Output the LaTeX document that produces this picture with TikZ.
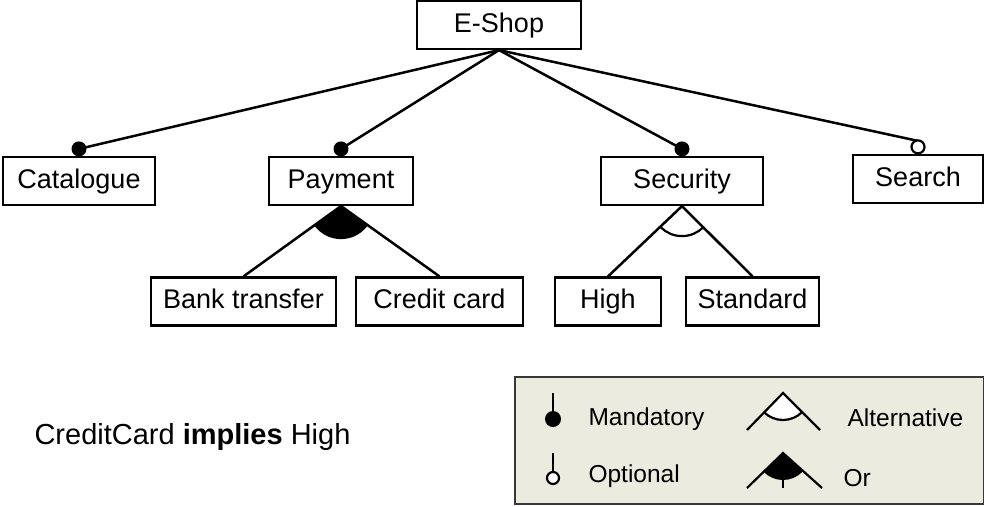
\documentclass[tikz,border=0pt]{standalone}
\usepackage{fontspec}
\setmainfont{Liberation Sans}
\usetikzlibrary{positioning,calc}
\definecolor{legendbg}{HTML}{EBEBDF}
\definecolor{legendline}{HTML}{383838}

\begin{document}
\begin{tikzpicture}[
    x=1pt, y=-1pt,
    feature/.style={rectangle, draw, line width=2.2pt, minimum height=48pt, inner sep=0pt, text height=19pt, text depth=5pt, font=\fontsize{27}{31}\selectfont},
    edge/.style={line width=2.5pt},
    legendtext/.style={anchor=west, font=\fontsize{24.5}{28}\selectfont}
]
\useasboundingbox (0,0) rectangle (984,506);

% Root feature
\node[feature, minimum width=164pt] (eshop) at (499,25) {E-Shop};

% First level
\node[feature, minimum width=152pt] (catalogue) at (79,181) {Catalogue};
\node[feature, minimum width=144pt] (payment) at (341,181) {Payment};
\node[feature, minimum width=162pt] (security) at (682,181) {Security};
\node[feature, minimum width=130pt] (search) at (918,179) {Search};

% Second level
\node[feature, minimum width=185pt] (bank) at (243.5,301.5) {Bank transfer};
\node[feature, minimum width=167pt] (credit) at (439.5,301.5) {Credit card};
\node[feature, minimum width=106pt] (high) at (608,301.5) {High};
\node[feature, minimum width=133pt] (standard) at (752.5,301.5) {Standard};

% Mandatory / optional edges
\draw[edge] (eshop.south) -- ([yshift=7pt]catalogue.north);
\draw[edge] (eshop.south) -- ([yshift=7pt]payment.north);
\draw[edge] (eshop.south) -- ([yshift=7pt]security.north);
\draw[edge] (eshop.south) -- ([yshift=13pt]search.north);
\fill ([yshift=7pt]catalogue.north) circle (7.5pt);
\fill ([yshift=7pt]payment.north) circle (7.5pt);
\fill ([yshift=7pt]security.north) circle (7.5pt);
\draw[line width=2.2pt, fill=white] ([yshift=7pt]search.north) circle (6.5pt);

% Or group
\begin{scope}
  \clip (payment.south) -- (bank.north) -- (credit.north) -- cycle;
  \fill (payment.south) circle (33pt);
\end{scope}
\draw[edge] (bank.north) -- (payment.south) -- (credit.north);

% Alternative group
\begin{scope}
  \clip (security.south) -- (high.north) -- (standard.north) -- cycle;
  \draw[line width=2.2pt] (security.south) circle (30pt);
\end{scope}
\draw[edge] (high.north) -- (security.south) -- (standard.north);

% Constraint
\node[anchor=west, font=\fontsize{29}{33}\selectfont] (constraint) at (31,437) {CreditCard \textbf{implies} High};

% Legend
\node[draw=legendline, fill=legendbg, line width=2pt, minimum width=469pt, minimum height=127pt, inner sep=0pt] (legend) at (749.5,440.5) {};
\draw[line width=2.2pt] (553,393) -- (553,418);
\fill (553,419) circle (8pt);
\draw[line width=2.2pt] (553,453) -- (553,472);
\draw[line width=2.2pt, fill=white] (553,478) circle (6pt);
\begin{scope}
  \clip (783,393) -- (747,430) -- (820,430) -- cycle;
  \draw[line width=2.2pt, fill=white] (783,393) circle (27pt);
\end{scope}
\draw[line width=2.2pt] (747,430) -- (783,393) -- (820,430);
\begin{scope}
  \clip (783,453) -- (747,488) -- (822,488) -- cycle;
  \fill (783,453) circle (27pt);
\end{scope}
\draw[line width=2.2pt] (747,488) -- (783,453) -- (822,488);
\draw[line width=2.2pt] (783,478) -- (783,488);
\node[legendtext] (mandatory) at (585,419) {Mandatory};
\node[legendtext] (optional) at (585,476) {Optional};
\node[legendtext] (alternative) at (844,418) {Alternative};
\node[legendtext] (or) at (840,478) {Or};

\end{tikzpicture}
\end{document}
